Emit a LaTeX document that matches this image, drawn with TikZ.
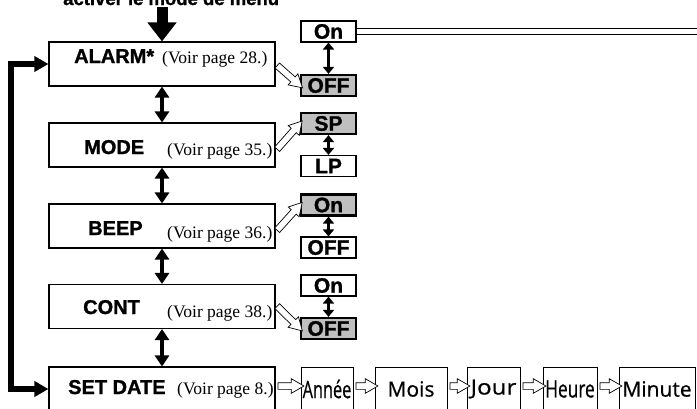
\documentclass[tikz,border=0pt]{standalone}
\usepackage{fontspec}
\setmainfont{Liberation Serif}
\setsansfont{Liberation Sans}
\newfontfamily\heavy[FakeBold=1.2]{Liberation Sans Bold}
\newfontfamily\rowfont[FakeBold=0.6]{Open Sans}
\usetikzlibrary{arrows.meta,shapes.arrows,calc}
\begin{document}
\begin{tikzpicture}[x=1pt,y=-1pt,
  mainbox/.style={draw, line width=1.1pt, minimum width=226pt, minimum height=44pt, inner sep=0pt},
  mlabel/.style={anchor=base west, inner sep=0pt, font=\fontsize{20}{24}\selectfont\heavy},
  vlabel/.style={anchor=base west, inner sep=0pt, font=\fontsize{17.5}{20}\selectfont\rmfamily},
  optbox/.style={draw, line width=1.1pt, minimum width=55pt, minimum height=21pt, inner sep=0pt, font=\fontsize{21}{22}\selectfont\heavy},
  selbox/.style={optbox, fill=black!25, line width=2.2pt},
  rowbox/.style={draw, line width=0.9pt, minimum height=44pt, inner sep=0pt, font=\fontsize{21}{24}\selectfont\rowfont},
  bigdbl/.style={line width=4.5pt, {Triangle[width=14pt,length=11pt]}-{Triangle[width=14pt,length=11pt]}},
  smalldbl/.style={line width=3.5pt, {Triangle[width=11pt,length=7pt]}-{Triangle[width=11pt,length=7pt]}},
  hollow/.style={single arrow, draw, fill=white, line width=0.7pt, inner xsep=0pt, inner ysep=3pt,
     single arrow head extend=4pt, single arrow tip angle=60, sloped, midway, minimum width=0pt},
]
\useasboundingbox (0,0) rectangle (697,408);
\clip (0,0) rectangle (697,408);

% top text (cut off by the top edge, as in the reference)
\node[anchor=base west, inner sep=0pt, font=\fontsize{18.5}{20}\selectfont\heavy] (menu) at (63,5) {activer le mode de menu};

% main boxes
\node[mainbox] (alarm) at (162,64) {};
\node[mainbox] (mode) at (162,145) {};
\node[mainbox] (beep) at (162,226) {};
\node[mainbox] (cont) at (162,306.5) {};
\node[mainbox] (setdate) at (162,389) {};

\node[mlabel] (lalarm) at (74,63) {ALARM*};
\node[vlabel] (valarm) at (162,63) {(Voir page 28.)};
\node[mlabel] (lmode) at (84,154) {MODE};
\node[vlabel] (vmode) at (167,155) {(Voir page 35.)};
\node[mlabel] (lbeep) at (88,235) {BEEP};
\node[vlabel] (vbeep) at (167,238) {(Voir page 36.)};
\node[mlabel] (lcont) at (83,314) {CONT};
\node[vlabel] (vcont) at (167,317) {(Voir page 38.)};
\node[mlabel] (lset) at (68,394) {SET DATE};
\node[vlabel] (vset) at (177,394) {(Voir page 8.)};

% option boxes
\node[optbox] (on1) at (328.5,31.5) {On};
\node[selbox] (off1) at (328.5,85.5) {OFF};
\node[selbox] (sp) at (328.5,123.5) {SP};
\node[optbox] (lp) at (328.5,166) {LP};
\node[selbox] (on2) at (328.5,205) {On};
\node[optbox] (off2) at (328.5,247.5) {OFF};
\node[optbox] (on3) at (328.5,285.5) {On};
\node[selbox] (off3) at (328.5,328.5) {OFF};

% bottom row
\node[rowbox, minimum width=52pt] (annee) at (327,389) {\fontsize{24}{26}\selectfont\scalebox{0.68}[1]{Année}};
\node[rowbox, minimum width=72pt] (mois) at (411,389) {Mois};
\node[rowbox, minimum width=53pt] (jour) at (493.5,389) {\scalebox{1.15}[1]{Jour}};
\node[rowbox, minimum width=54pt] (heure) at (570,389) {\fontsize{24}{26}\selectfont\scalebox{0.72}[1]{Heure}};
\node[rowbox, minimum width=76pt] (minute) at (657,389) {Minute};

% top arrow
\coordinate (topin) at (162,7);
\draw[line width=11pt, -{Triangle[width=28pt,length=19pt]}] (topin) -- (alarm.north);

% double arrows between main boxes
\draw[bigdbl] (alarm.south) -- (mode.north);
\draw[bigdbl] (mode.south) -- (beep.north);
\draw[bigdbl] (beep.south) -- (cont.north);
\draw[bigdbl] (cont.south) -- (setdate.north);

% small double arrows
\draw[smalldbl] (on1.south) -- (off1.north);
\draw[smalldbl] (sp.south) -- (lp.north);
\draw[smalldbl] (on2.south) -- (off2.north);
\draw[smalldbl] (on3.south) -- (off3.north);

% loop arrow
\coordinate (lt) at (11,64);
\coordinate (lb) at (11,389);
\draw[line width=6.5pt, line join=miter, {Triangle[width=15pt,length=14pt]}-{Triangle[width=15pt,length=14pt]}]
  (alarm.west) -- (lt) -- (lb) -- (setdate.west);

% double line to the right
\coordinate (dblend) at (710,31.5);
\draw[double, double distance=5pt, line width=1pt] (on1.east) -- (dblend);

% hollow arrows
\path (alarm.east) -- (off1.west) node[hollow, minimum height=33.7pt] (h1) {};
\path ($(mode.east)+(0,6)$) -- (sp.west) node[hollow, minimum height=37.8pt] (h2) {};
\path ($(beep.east)+(0,6)$) -- (on2.west) node[hollow, minimum height=37.5pt] (h3) {};
\path ($(cont.east)+(0,-2)$) -- (off3.west) node[hollow, minimum height=35.4pt] (h4) {};
\path ($(setdate.east)+(0,-3)$) -- ($(annee.west)+(0,-3)$) node[hollow, minimum height=26pt] (h5) {};
\path ($(annee.east)+(0,-3)$) -- ($(mois.west)+(0,-3)$) node[hollow, minimum height=22pt] (h6) {};
\path ($(mois.east)+(0,-3)$) -- ($(jour.west)+(0,-3)$) node[hollow, minimum height=20pt] (h7) {};
\path ($(jour.east)+(0,-3)$) -- ($(heure.west)+(0,-3)$) node[hollow, minimum height=23pt] (h8) {};
\path ($(heure.east)+(0,-3)$) -- ($(minute.west)+(0,-3)$) node[hollow, minimum height=22pt] (h9) {};
\end{tikzpicture}
\end{document}
